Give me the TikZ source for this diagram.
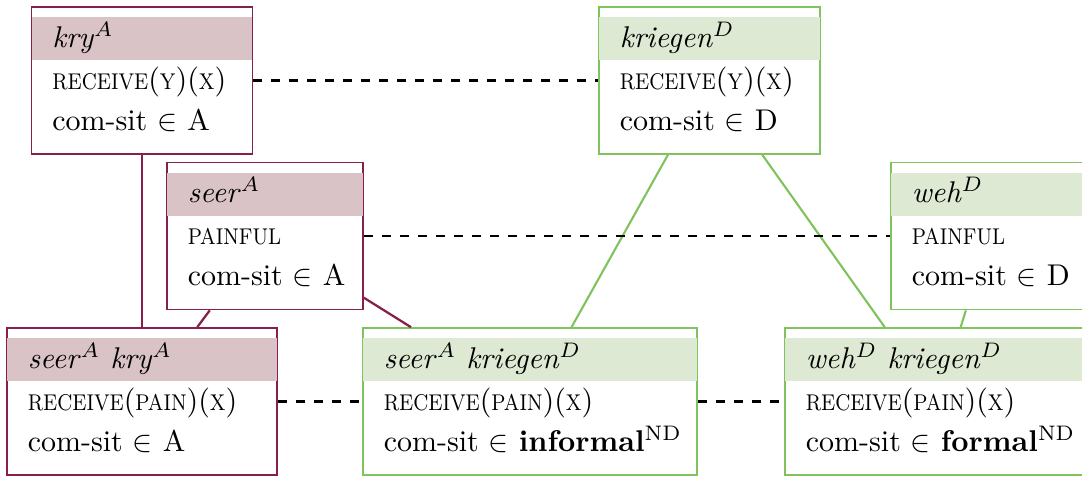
\documentclass[tikz,border=0pt]{standalone}
\usepackage{graphicx}
\usetikzlibrary{calc}
\definecolor{redline}{RGB}{135,30,75}
\definecolor{redband}{RGB}{217,195,199}
\definecolor{greenline}{RGB}{128,195,92}
\definecolor{greenband}{RGB}{221,233,211}
\def\pxu{0.3333pt}
\newcommand\fsc[1]{\scalebox{0.86}[1]{\fontsize{7.6}{9}\selectfont\uppercase{#1}}}
\tikzset{
  lexframe/.style={draw=#1line, line width=0.55pt, fill=white, rectangle, inner sep=0pt,
    minimum height=147*\pxu},
  lextext/.style={anchor=base west, inner sep=0pt, font=\fontsize{10}{12}\selectfont},
  redlink/.style={draw=redline, line width=0.75pt},
  greenlink/.style={draw=greenline, line width=0.7pt},
  dashlink/.style={draw=black, line width=0.8pt, dash pattern=on 3pt off 3pt},
}
% #1 name, #2 x, #3 y (centre, px), #4 width px, #5 colour family, #6 header, #7 line1, #8 line2
\newcommand\lexbox[8]{%
  \node[lexframe=#5, minimum width=#4*\pxu] (#1) at (#2,#3) {};
  \fill[#5band] ([xshift=0.28pt, yshift=-11*\pxu]#1.north west) rectangle ([xshift=-0.28pt, yshift=-54*\pxu]#1.north east);
  \node[lextext] (#1-h) at ([xshift=21*\pxu, yshift=-41*\pxu]#1.north west) {#6};
  \node[lextext] (#1-a) at ([xshift=21*\pxu, yshift=-83*\pxu]#1.north west) {#7};
  \node[lextext] (#1-b) at ([xshift=21*\pxu, yshift=-124*\pxu]#1.north west) {#8};
}
\begin{document}
\begin{tikzpicture}[x=0.3333pt, y=-0.3333pt]
\useasboundingbox (0,0) rectangle (1082,476);
\clip (0,0) rectangle (1082,476);
% boxes
\lexbox{kry}{142}{80.5}{221}{red}{\textit{kry}$^{A}$}{\fsc{receive}(\fsc{y})(\fsc{x})}{com-sit $\in$ A}
\lexbox{kriegen}{709.5}{80.5}{221}{green}{\textit{kriegen}$^{D}$}{\fsc{receive}(\fsc{y})(\fsc{x})}{com-sit $\in$ D}
\lexbox{seer}{265}{236}{196}{red}{\textit{seer}$^{A}$}{\fsc{painful}}{com-sit $\in$ A}
\lexbox{weh}{989}{236}{196}{green}{\textit{weh}$^{D}$}{\fsc{painful}}{com-sit $\in$ D}
\lexbox{seerkry}{142}{401.5}{270}{red}{\textit{seer}$^{A}$ \textit{kry}$^{A}$}{\fsc{receive}(\fsc{pain})(\fsc{x})}{com-sit $\in$ A}
\lexbox{seerkriegen}{530}{401.5}{334}{green}{\textit{seer}$^{A}$ \textit{kriegen}$^{D}$}{\fsc{receive}(\fsc{pain})(\fsc{x})}{com-sit $\in$ \textbf{informal}\textsuperscript{ND}}
\lexbox{wehkriegen}{937.5}{401.5}{305}{green}{\textit{weh}$^{D}$ \textit{kriegen}$^{D}$}{\fsc{receive}(\fsc{pain})(\fsc{x})}{com-sit $\in$ \textbf{formal}\textsuperscript{ND}}
% connectors
\draw[redlink] (kry) -- (seerkry);
\draw[redlink] (seer) -- (seerkry);
\draw[redlink] (seer) -- (seerkriegen);
\draw[greenlink] (kriegen) -- (seerkriegen);
\draw[greenlink] (kriegen) -- (wehkriegen);
\draw[greenlink] (weh) -- (wehkriegen);
\draw[dashlink] (kry) -- (kriegen);
\draw[dashlink] (seer) -- (weh);
\draw[dashlink] (seerkry) -- (seerkriegen);
\draw[dashlink] (seerkriegen) -- (wehkriegen);
\end{tikzpicture}
\end{document}
